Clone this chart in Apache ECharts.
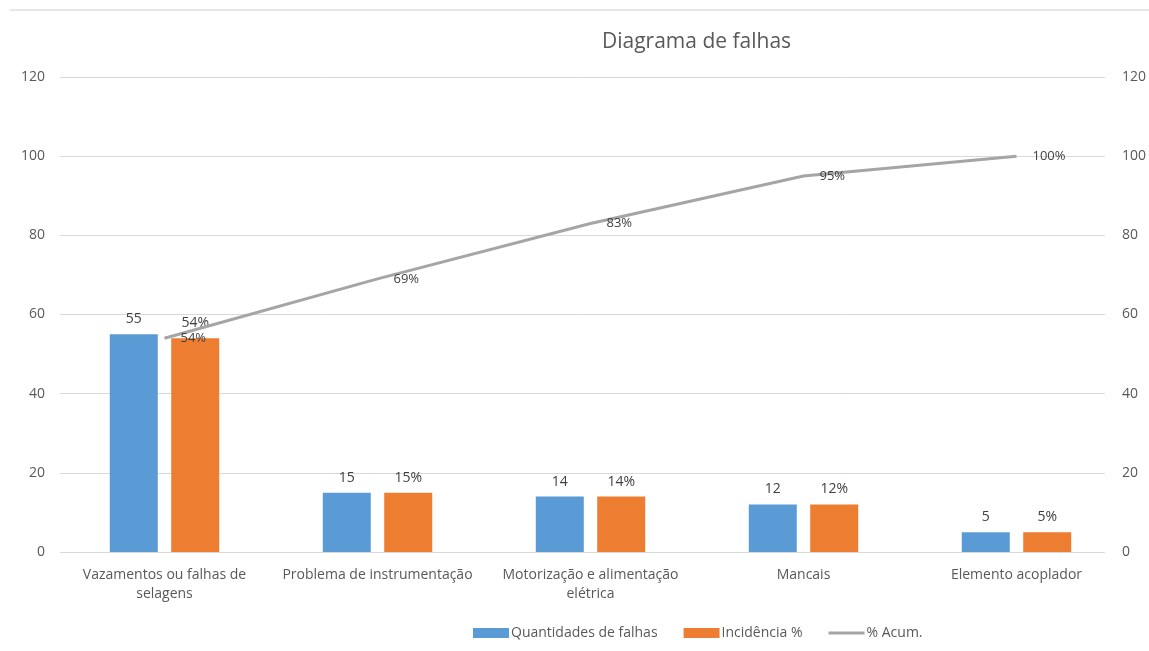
<!DOCTYPE html>
<html><head><meta charset="utf-8">
<script src="https://cdn.jsdelivr.net/npm/echarts@6/dist/echarts.min.js"></script>
<style>html,body{margin:0;padding:0;background:#fff}#c{width:1149px;height:651px}</style>
</head><body><div id="c"></div>
<script>
const categories = ['Vazamentos ou falhas de\nselagens', 'Problema de instrumentação', 'Motorização e alimentação\nelétrica', 'Mancais', 'Elemento acoplador'];
const quantidades = [55, 15, 14, 12, 5];
const incidencia = [54, 15, 14, 12, 5];
const acumulado = [54, 69, 83, 95, 100];
const seriesNames = ['Quantidades de falhas', 'Incidência %', '% Acum.'];
const titleText = 'Diagrama de falhas';
const yTicks = { min: 0, max: 120, interval: 20 };

const font = 'Open Sans';
const txt = '#595959';
const chart = echarts.init(document.getElementById('c'));
chart.setOption({
  animation: false,
  textStyle: { fontFamily: font },
  title: { text: titleText, left: 597, top: 27, textStyle: { fontFamily: font, fontSize: 21, fontWeight: 'normal', color: txt } },
  graphic: [{ type: 'rect', shape: { x: 10, y: 9, width: 1139, height: 2 }, style: { fill: '#e6e6e6' }, silent: true }],
  grid: [
    { left: 58, right: 26, top: 77, bottom: 99, containLabel: false },
    { left: 60, right: 42, top: 77, bottom: 99, containLabel: false }
  ],
  legend: {
    left: 468, top: 621, itemGap: 26, itemWidth: 36, itemHeight: 10,
    textStyle: { fontFamily: font, fontSize: 14, color: txt, padding: [0,0,0,-3] },
    data: [
      { name: seriesNames[0], icon: 'rect' },
      { name: seriesNames[1], icon: 'rect' },
      { name: seriesNames[2], icon: 'path://M0,0H36V3H0Z' }
    ]
  },
  xAxis: [
    { type: 'category', data: categories, gridIndex: 0,
      axisLine: { show: false }, axisTick: { show: false },
      axisLabel: { color: txt, fontSize: 14, fontFamily: font, margin: 14, lineHeight: 19, interval: 0 } },
    { type: 'value', gridIndex: 1, show: false, min: 0, max: 1, splitLine: { show: false } }
  ],
  yAxis: [
    { type: 'value', gridIndex: 0, show: false, min: yTicks.min, max: yTicks.max, interval: yTicks.interval, splitLine: { show: false } },
    { type: 'value', gridIndex: 0, show: false, position: 'right', min: yTicks.min, max: yTicks.max, interval: yTicks.interval, splitLine: { show: false } },
    { type: 'value', gridIndex: 1, min: yTicks.min, max: yTicks.max, interval: yTicks.interval,
      axisLine: { show: false }, axisTick: { show: false },
      axisLabel: { color: txt, fontSize: 14, fontFamily: font, margin: 15 },
      splitLine: { lineStyle: { color: '#d9d9d9' } } },
    { type: 'value', gridIndex: 1, position: 'right', min: yTicks.min, max: yTicks.max, interval: yTicks.interval,
      axisLine: { show: false }, axisTick: { show: false },
      axisLabel: { color: txt, fontSize: 14, fontFamily: font, margin: 17 },
      splitLine: { show: false } }
  ],
  series: [
    { name: seriesNames[0], type: 'bar', xAxisIndex: 0, yAxisIndex: 0, data: quantidades, barWidth: 48, barGap: '28%',
      itemStyle: { color: '#5B9BD5' },
      label: { show: true, position: 'top', distance: 8, color: '#404040', fontSize: 14, fontFamily: font } },
    { name: seriesNames[1], type: 'bar', xAxisIndex: 0, yAxisIndex: 0, data: incidencia, barWidth: 48,
      itemStyle: { color: '#ED7D31' },
      label: { show: true, position: 'top', distance: 8, color: '#404040', fontSize: 14, fontFamily: font, formatter: '{c}%' } },
    { name: seriesNames[2], type: 'line', xAxisIndex: 0, yAxisIndex: 1, data: acumulado,
      symbol: 'circle', symbolSize: 0.01, showSymbol: true,
      lineStyle: { color: '#A5A5A5', width: 3 }, itemStyle: { color: '#A5A5A5' },
      label: { show: true, position: 'right', distance: 16, color: '#404040', fontSize: 13, fontFamily: font, formatter: '{c}%' } }
  ]
});
</script></body></html>
